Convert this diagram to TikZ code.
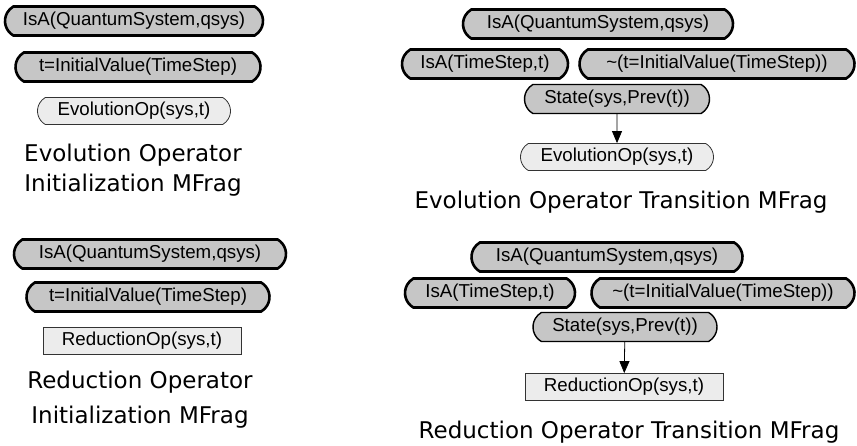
\documentclass[tikz,border=0pt]{standalone}
\usepackage{fontspec}
\setmainfont{Liberation Sans}
\newfontfamily\capfont{DejaVu Sans}
\usetikzlibrary{shapes.misc,arrows.meta}
\definecolor{ctxfill}{RGB}{198,198,198}
\definecolor{resfill}{RGB}{236,236,236}
\tikzset{
  ctx/.style={rounded rectangle, rounded rectangle arc length=120, draw=black,
    line width=2.6pt, fill=ctxfill, inner sep=0pt, minimum height=29pt,
    font=\fontsize{18.7}{21}\selectfont},
  resnode/.style={rounded rectangle, rounded rectangle arc length=120, draw=black!80,
    line width=0.8pt, fill=resfill, inner sep=0pt, minimum height=27pt,
    font=\fontsize{18.7}{21}\selectfont},
  resbox/.style={rectangle, draw=black!80, line width=0.8pt, fill=resfill,
    inner sep=0pt, minimum height=27pt, font=\fontsize{18.7}{21}\selectfont},
  caption/.style={font=\capfont\fontsize{23}{30}\selectfont, align=center},
  dep/.style={-{Triangle[width=10pt,length=12pt]}, line width=0.8pt}
}
\begin{document}
\begin{tikzpicture}[x=1pt,y=-1pt]
\useasboundingbox (0,0) rectangle (857,445);

% Evolution operator initialization
\node[ctx, minimum width=258pt] (ei1) at (134,21) {IsA(QuantumSystem,qsys)};
\node[ctx, minimum width=245pt] (ei2) at (138,67) {t=InitialValue(TimeStep)};
\node[resnode, minimum width=193pt] (ei3) at (134,111) {EvolutionOp(sys,t)};
\node[caption] (eicap) at (133,170) {Evolution Operator\\Initialization MFrag};

% Reduction operator initialization
\node[ctx, minimum width=272pt] (ri1) at (150,254) {IsA(QuantumSystem,qsys)};
\node[ctx, minimum width=243pt] (ri2) at (148,297) {t=InitialValue(TimeStep)};
\node[resbox, minimum width=198pt] (ri3) at (142,341) {ReductionOp(sys,t)};
\node[caption] (ricap) at (140,400) {Reduction Operator\\[5pt]Initialization MFrag};

% Evolution operator transition
\node[ctx, minimum width=270pt] (et1) at (598,24) {IsA(QuantumSystem,qsys)};
\node[ctx, minimum width=166pt] (et2) at (485,64) {IsA(TimeStep,t)};
\node[ctx, minimum width=275pt] (et3) at (717,64) {\textasciitilde(t=InitialValue(TimeStep))};
\node[ctx, minimum width=185pt, line width=1.4pt] (et4) at (617,99) {State(sys,Prev(t))};
\node[resnode, minimum width=193pt] (et5) at (617,157) {EvolutionOp(sys,t)};
\node[caption] (etcap) at (621,202) {Evolution Operator Transition MFrag};
\draw[dep] (et4) -- (et5);

% Reduction operator transition
\node[ctx, minimum width=271pt] (rt1) at (607,257) {IsA(QuantumSystem,qsys)};
\node[ctx, minimum width=170pt] (rt2) at (490,293) {IsA(TimeStep,t)};
\node[ctx, minimum width=263pt] (rt3) at (723,293) {\textasciitilde(t=InitialValue(TimeStep))};
\node[ctx, minimum width=184pt, line width=1.4pt] (rt4) at (625,327) {State(sys,Prev(t))};
\node[resbox, minimum width=198pt] (rt5) at (624,387) {ReductionOp(sys,t)};
\node[caption] (rtcap) at (629,432) {Reduction Operator Transition MFrag};
\draw[dep] (rt4) -- (rt5);
\end{tikzpicture}
\end{document}
